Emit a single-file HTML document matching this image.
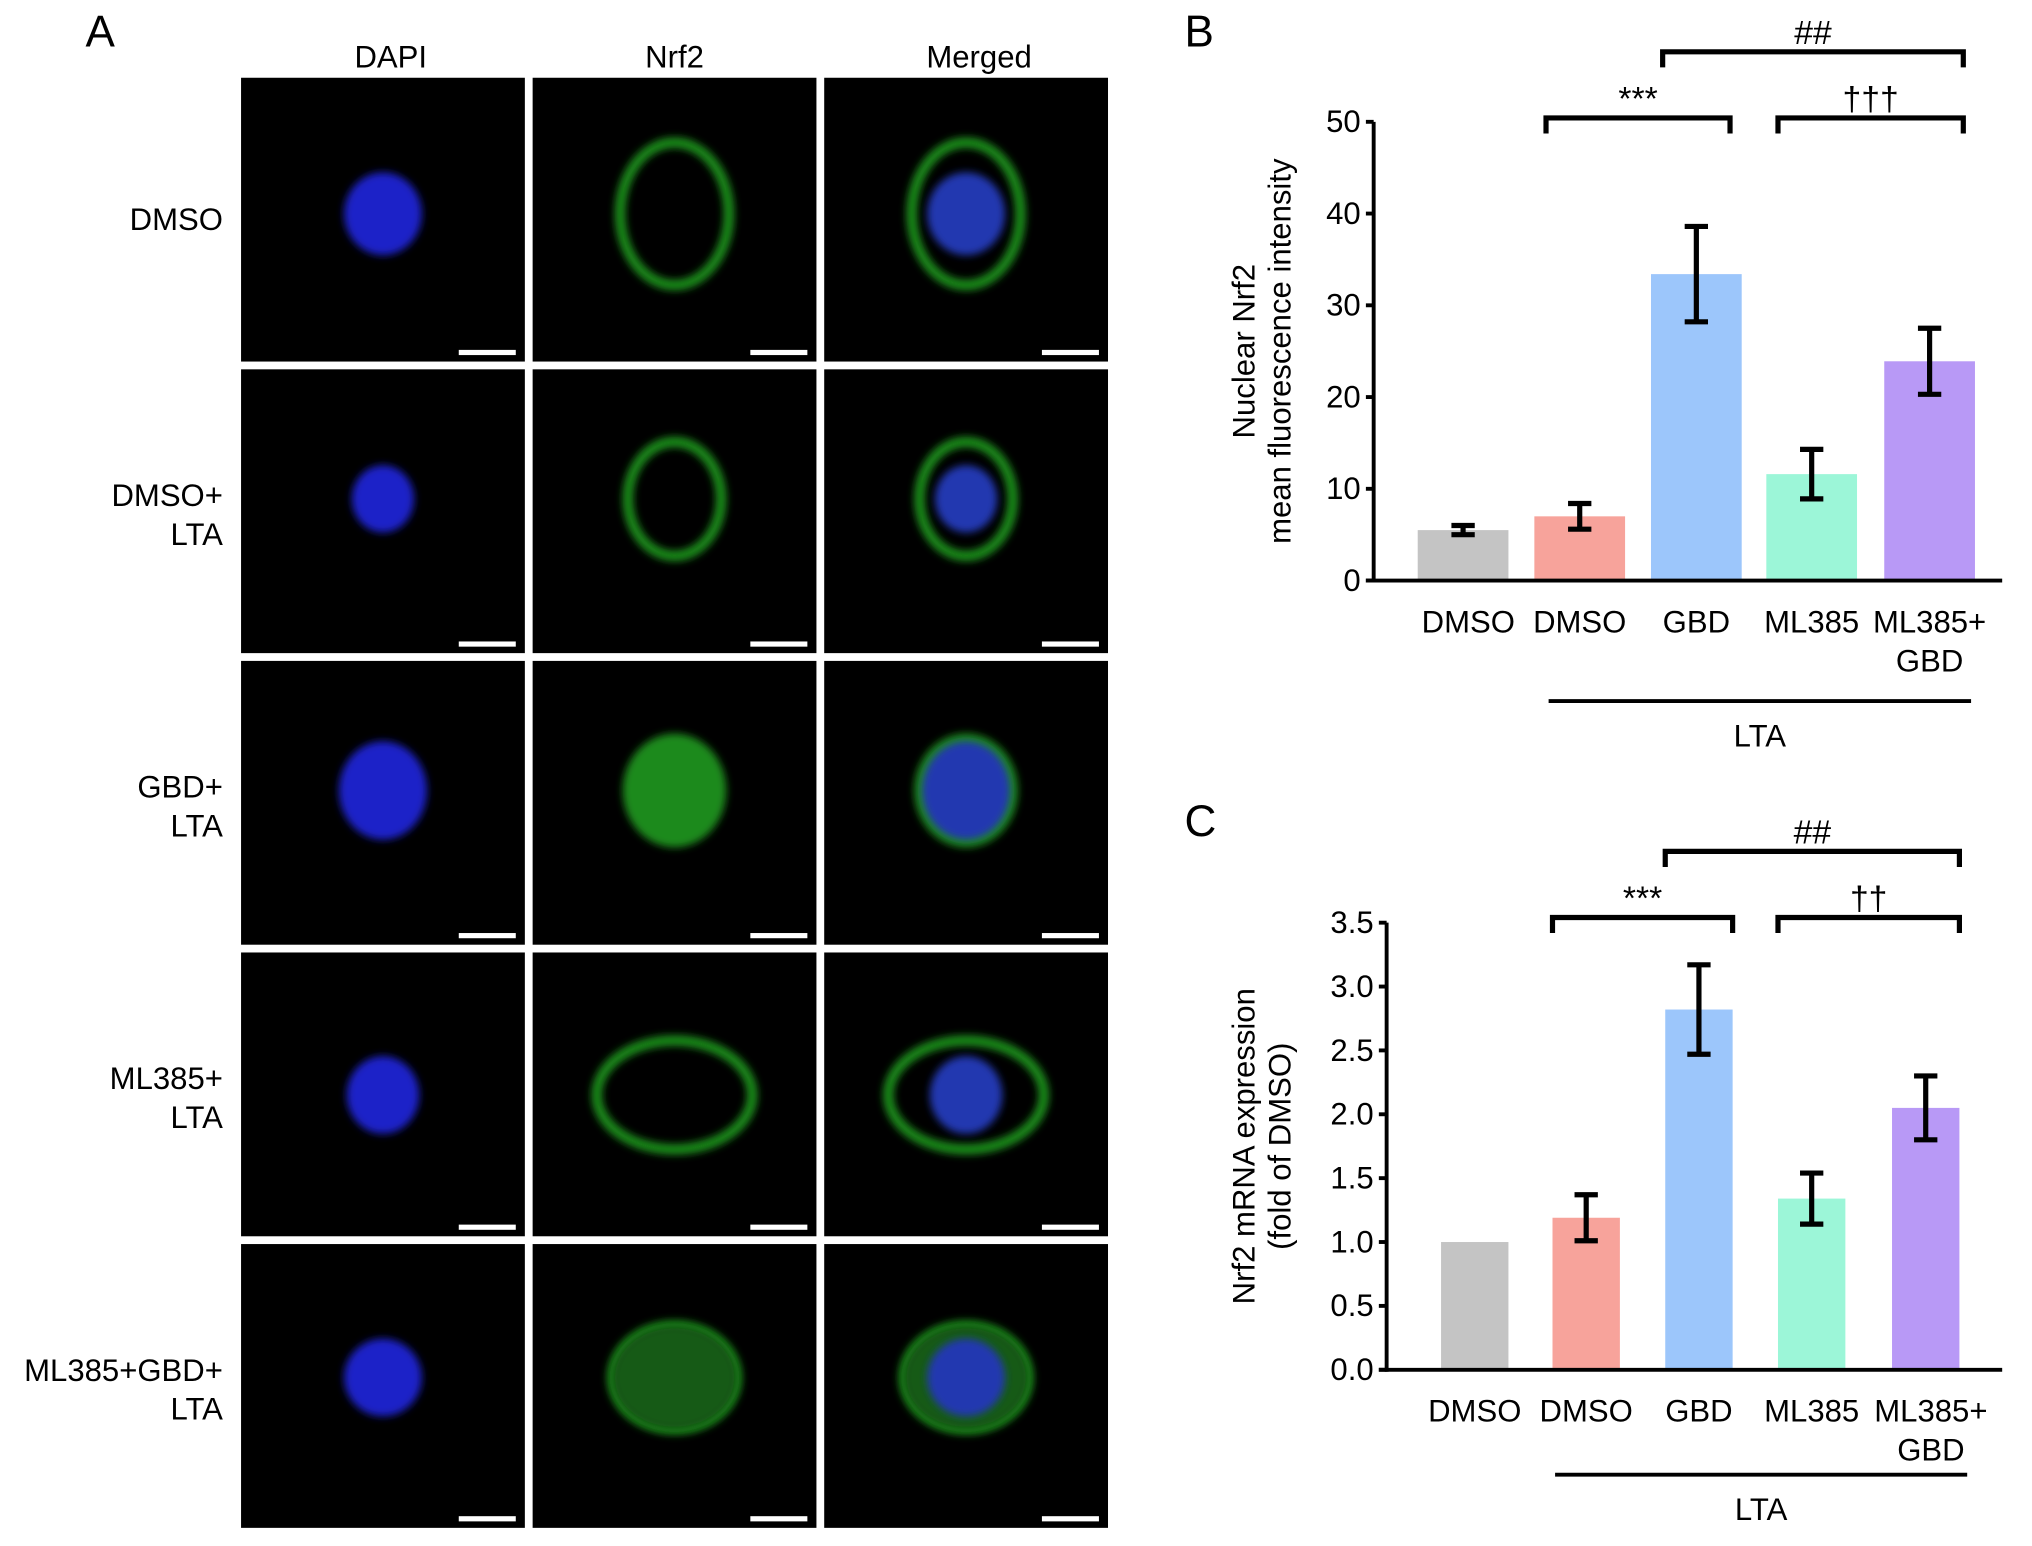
<!DOCTYPE html>
<html><head><meta charset="utf-8"><style>
html,body{margin:0;padding:0;background:#fff}
svg{display:block;font-family:"Liberation Sans",sans-serif}
</style></head><body>
<svg id="fig" width="2032" height="1546" viewBox="0 0 1568 1193" xmlns="http://www.w3.org/2000/svg">
<defs>
<filter id="blur" x="-50%" y="-50%" width="200%" height="200%"><feGaussianBlur stdDeviation="3"/></filter>
</defs>
<g id="panelA"></g>
<g id="panelB"></g>
<g id="panelC"></g>
</svg>
<script>
const NS="http://www.w3.org/2000/svg";
function mk(p,tag,at,txt){const e=document.createElementNS(NS,tag);for(const k in at)e.setAttribute(k,at[k]);if(txt!==undefined)e.textContent=txt;p.appendChild(e);return e;}

// ---------- Panel A (micrographs) ----------
const A=document.getElementById('panelA');
const colLabels=["DAPI","Nrf2","Merged"];
const rowLabels=[["DMSO"],["DMSO+","LTA"],["GBD+","LTA"],["ML385+","LTA"],["ML385+GBD+","LTA"]];
const colX=[186,411,636], rowY=[60,285,510,735,960], cw=219, ch=219;
const cellShapes=[[300,165,30,32,520,165,42,55],[300,385,24,26,520,385,36,44],[300,610,34,38,520,610,40,44],[300,845,28,30,520,845,60,42],[300,1063,30,30,520,1063,48,40]];
let t=mk(A,'text',{x:66,y:36,'font-size':34},'A');

colLabels.forEach((c,i)=>{const e=mk(A,'text',{x:colX[i]+cw/2+(i==0?6:(i==2?10:0)),y:52,'font-size':24,'text-anchor':'middle'},c);
});
rowLabels.forEach((r,ri)=>{
  const cy=rowY[ri]+ch/2+(r.length==1?8:-4);
  r.forEach((s,k)=>{const e=mk(A,'text',{x:172,y:cy+k*30,'font-size':24,'text-anchor':'end'},s);
   });
  colX.forEach((x,ci)=>{
    const g=mk(A,'g',{});
    
    mk(g,'rect',{x:x,y:rowY[ri],width:cw,height:ch,fill:'#000'});
    const s=cellShapes[ri];const dx=x+cw/2;const cyy=s[1];
    if(ci>=1&&ri!=2) mk(g,'ellipse',{cx:dx,cy:cyy,rx:s[6],ry:s[7],fill:'none',stroke:'#1f8f1c','stroke-width':8,filter:'url(#blur)'});
    if(ci>=1&&ri==2) mk(g,'ellipse',{cx:dx,cy:cyy,rx:s[6],ry:s[7],fill:'#1f8a1b',filter:'url(#blur)'});
    if(ci>=1&&ri==4) mk(g,'ellipse',{cx:dx,cy:cyy,rx:s[6],ry:s[7],fill:'#155a12',filter:'url(#blur)'});
    if(ci!=1) mk(g,'ellipse',{cx:dx,cy:cyy,rx:s[2],ry:s[3],fill:ci==0?'#1a20c8':'#2438b0',filter:'url(#blur)'});
    mk(g,'rect',{x:x+cw-51,y:rowY[ri]+ch-9,width:44,height:4,fill:'#fff'});
  });
});

// ---------- Bar chart helper ----------
function barChart(root,cfg){
  const yS=v=>cfg.y0-(v/cfg.ymax)*(cfg.y0-cfg.ytop);
  const lab=mk(root,'text',{x:cfg.labX,y:cfg.labY,'font-size':34},cfg.letter);
  
  cfg.values.forEach((v,i)=>{
    const cx=cfg.xs[i];
    const b=mk(root,'rect',{x:cx-cfg.bw/2,y:yS(v),width:cfg.bw,height:cfg.y0-yS(v),fill:cfg.colors[i]});
    
    const e=cfg.errors[i];
    if(e>0){const g=mk(root,'g',{stroke:'#000','stroke-width':4,fill:'none'});
      
      mk(g,'line',{x1:cx,x2:cx,y1:yS(v+e),y2:yS(v-e)});
      mk(g,'line',{x1:cx-9,x2:cx+9,y1:yS(v+e),y2:yS(v+e)});
      mk(g,'line',{x1:cx-9,x2:cx+9,y1:yS(v-e),y2:yS(v-e)});}
  });
  const ax=mk(root,'g',{stroke:'#000','stroke-width':3});
  
  mk(ax,'line',{x1:cfg.ax,x2:cfg.ax,y1:cfg.ytop,y2:cfg.y0+1.5});
  mk(ax,'line',{x1:cfg.ax-6,x2:1545,y1:cfg.y0,y2:cfg.y0});
  cfg.ticks.forEach((tv,i)=>{mk(ax,'line',{x1:cfg.ax-6,x2:cfg.ax,y1:yS(tv),y2:yS(tv)});
    const e=mk(root,'text',{x:cfg.ax-10,y:yS(tv)+8,'font-size':24,'text-anchor':'end'},cfg.tickLabels[i]);
    });
  const yt=mk(root,'text',{transform:`translate(${cfg.ytX},${(cfg.y0+cfg.ytop)/2}) rotate(-90)`,'font-size':24,'text-anchor':'middle'});
  
  cfg.ytitle.forEach((s,k)=>mk(yt,'tspan',{x:0,dy:k?28:0},s));
  cfg.cats.forEach((c,i)=>{c.forEach((s,k)=>{const e=mk(root,'text',{x:cfg.xs[i]+(cfg.catDx[i]||0),y:cfg.y0+40+k*30,'font-size':24,'text-anchor':'middle'},s);
    });});
  const lt=mk(root,'line',{x1:cfg.xs[1]-24,x2:cfg.xs[4]+32,y1:cfg.y0+cfg.ltaDy,y2:cfg.y0+cfg.ltaDy,stroke:'#000','stroke-width':3});
  
  const ltt=mk(root,'text',{x:(cfg.xs[1]+cfg.xs[4])/2+4,y:cfg.y0+cfg.ltaDy+35,'font-size':24,'text-anchor':'middle'},'LTA');
  
  cfg.sig.forEach(s=>{const g=mk(root,'g',{});
    
    const x1=cfg.xs[s[0]]-26,x2=cfg.xs[s[1]]+26,y=s[2];
    mk(g,'path',{d:`M${x1},${y+12}V${y}H${x2}V${y+12}`,stroke:'#000','stroke-width':4,fill:'none'});
    mk(g,'text',{x:(x1+x2)/2,y:y-6,'font-size':26,'text-anchor':'middle'},s[3]);});
}

// ---------- Panel B data ----------
const catsB=[["DMSO"],["DMSO"],["GBD"],["ML385"],["ML385+","GBD"]];
const valuesB=[5.5,7.0,33.4,11.6,23.9];
const errorsB=[0.5,1.4,5.2,2.7,3.6];
const ticksB=[0,10,20,30,40,50];
const tickLabelsB=["0","10","20","30","40","50"];
barChart(document.getElementById('panelB'),{letter:'B',labX:914,labY:36,values:valuesB,errors:errorsB,cats:catsB,ticks:ticksB,tickLabels:tickLabelsB,
  ymax:50,y0:448,ytop:94,ax:1060,xs:[1129,1219,1309,1398,1489],bw:70,catDx:[4,0,0,0,0],ltaDy:93,
  colors:['#c4c4c4','#f7a39b','#9cc6fb','#9cf6d8','#b899f6'],ytitle:["Nuclear Nrf2","mean fluorescence intensity"],ytX:968,
  sig:[[1,2,91,'***'],[3,4,91,'†††'],[2,4,40,'##']]});

// ---------- Panel C data ----------
const catsC=[["DMSO"],["DMSO"],["GBD"],["ML385"],["ML385+","GBD"]];
const valuesC=[1.0,1.19,2.82,1.34,2.05];
const errorsC=[0,0.18,0.35,0.2,0.25];
const ticksC=[0,0.5,1,1.5,2,2.5,3,3.5];
const tickLabelsC=["0.0","0.5","1.0","1.5","2.0","2.5","3.0","3.5"];
barChart(document.getElementById('panelC'),{letter:'C',labX:914,labY:645,values:valuesC,errors:errorsC,cats:catsC,ticks:ticksC,tickLabels:tickLabelsC,
  ymax:3.5,y0:1057,ytop:712,ax:1070,xs:[1138,1224,1311,1398,1486],bw:52,catDx:[0,0,0,0,4],ltaDy:81,
  colors:['#c4c4c4','#f7a39b','#9cc6fb','#9cf6d8','#b899f6'],ytitle:["Nrf2 mRNA expression","(fold of DMSO)"],ytX:968,
  sig:[[1,2,708,'***'],[3,4,708,'††'],[2,4,657,'##']]});
</script>
</body></html>
